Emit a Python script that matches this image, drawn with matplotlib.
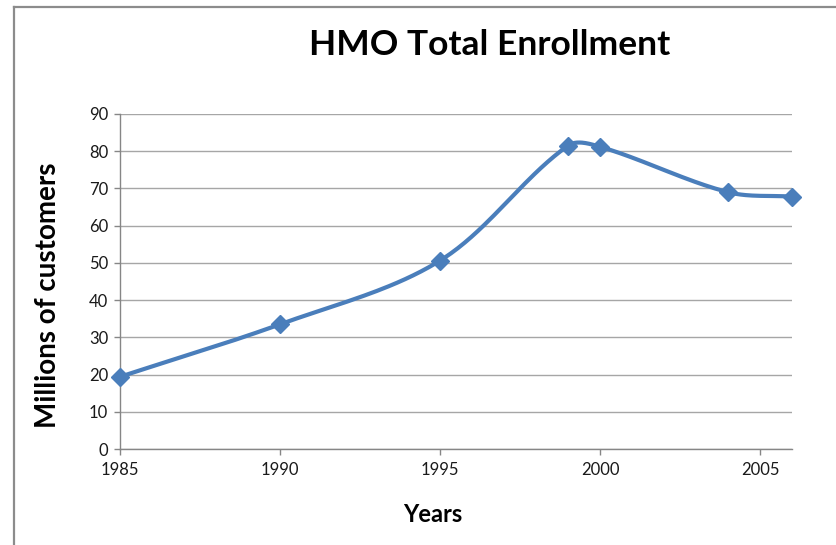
import numpy as np
import matplotlib
matplotlib.use("Agg")
import matplotlib.pyplot as plt
from matplotlib.lines import Line2D

plt.rcParams['font.family'] = ['Lato', 'DejaVu Sans']

years = [1985, 1990, 1995, 1999, 2000, 2004, 2006]
enrollment = [19.4, 33.5, 50.6, 81.5, 81.2, 69.0, 67.8]
x_ticks = [1985, 1990, 1995, 2000, 2005]
y_ticks = [0, 10, 20, 30, 40, 50, 60, 70, 80, 90]

blue = '#4a7ebb'
axis_grey = '#868686'
grid_grey = '#a6a6a6'


def smooth(ax, xs, ys, n=40, k=0.33):
    # smoothed line built in display space: bezier handles follow the
    # neighbour chord, scaled by each segment's own length
    pts = ax.transData.transform(np.column_stack([xs, ys]))
    m = len(pts)
    tang = np.zeros_like(pts)
    for i in range(m):
        a = pts[max(i - 1, 0)]
        b = pts[min(i + 1, m - 1)]
        d = b - a
        tang[i] = d / np.hypot(*d)
    out = []
    t = np.linspace(0, 1, n)[:, None]
    for i in range(m - 1):
        p1, p2 = pts[i], pts[i + 1]
        L = np.hypot(*(p2 - p1))
        c1 = p1 + tang[i] * L * k
        c2 = p2 - tang[i + 1] * L * k
        seg = ((1 - t) ** 3 * p1 + 3 * (1 - t) ** 2 * t * c1
               + 3 * (1 - t) * t ** 2 * c2 + t ** 3 * p2)
        out.append(seg if i == 0 else seg[1:])
    out = ax.transData.inverted().transform(np.vstack(out))
    return out[:, 0], out[:, 1]


W, H = 836, 545
fig = plt.figure(figsize=(W / 100, H / 100), dpi=100)
ax = fig.add_axes([120 / W, 1 - 449 / H, 672 / W, 335 / H])
ax.set_xlim(1985, 2006)
ax.set_ylim(0, 90)

sx, sy = smooth(ax, years, enrollment)
ax.plot(sx, sy, color=blue, lw=3.0, solid_capstyle='round', zorder=3)
ax.plot(years, enrollment, ls='none', marker='D', ms=9, color=blue,
        mec=blue, zorder=4, clip_on=False)

ax.set_xticks(x_ticks)
ax.set_yticks(y_ticks)
ax.yaxis.grid(True, color=grid_grey, lw=1.0)
ax.set_axisbelow(True)
for side in ('top', 'right'):
    ax.spines[side].set_visible(False)
for side in ('left', 'bottom'):
    ax.spines[side].set_color(axis_grey)
    ax.spines[side].set_linewidth(1.0)
ax.tick_params(direction='out', length=4.5, width=1.0, color=axis_grey,
               labelsize=12, labelcolor='#1a1a1a')
ax.tick_params(axis='y', pad=4)
ax.tick_params(axis='x', pad=5)

fig.text(490 / W, 1 - 45 / H, 'HMO Total Enrollment', ha='center',
         va='center', fontsize=25.5, fontweight='bold')
fig.text(48 / W, 1 - 295 / H, 'Millions of customers', ha='center',
         va='center', rotation=90, fontsize=20, fontweight='bold')
fig.text(433 / W, 1 - 515 / H, 'Years', ha='center', va='center',
         fontsize=17, fontweight='bold')

# chart frame (left and top edges)
fig.add_artist(Line2D([14 / W, 14 / W], [0, 1 - 6.5 / H], color='#8c8c8c',
                      lw=1.6, transform=fig.transFigure))
fig.add_artist(Line2D([14 / W, 1], [1 - 6.5 / H, 1 - 6.5 / H],
                      color='#8c8c8c', lw=1.6, transform=fig.transFigure))

fig.savefig('out.png', dpi=100)
